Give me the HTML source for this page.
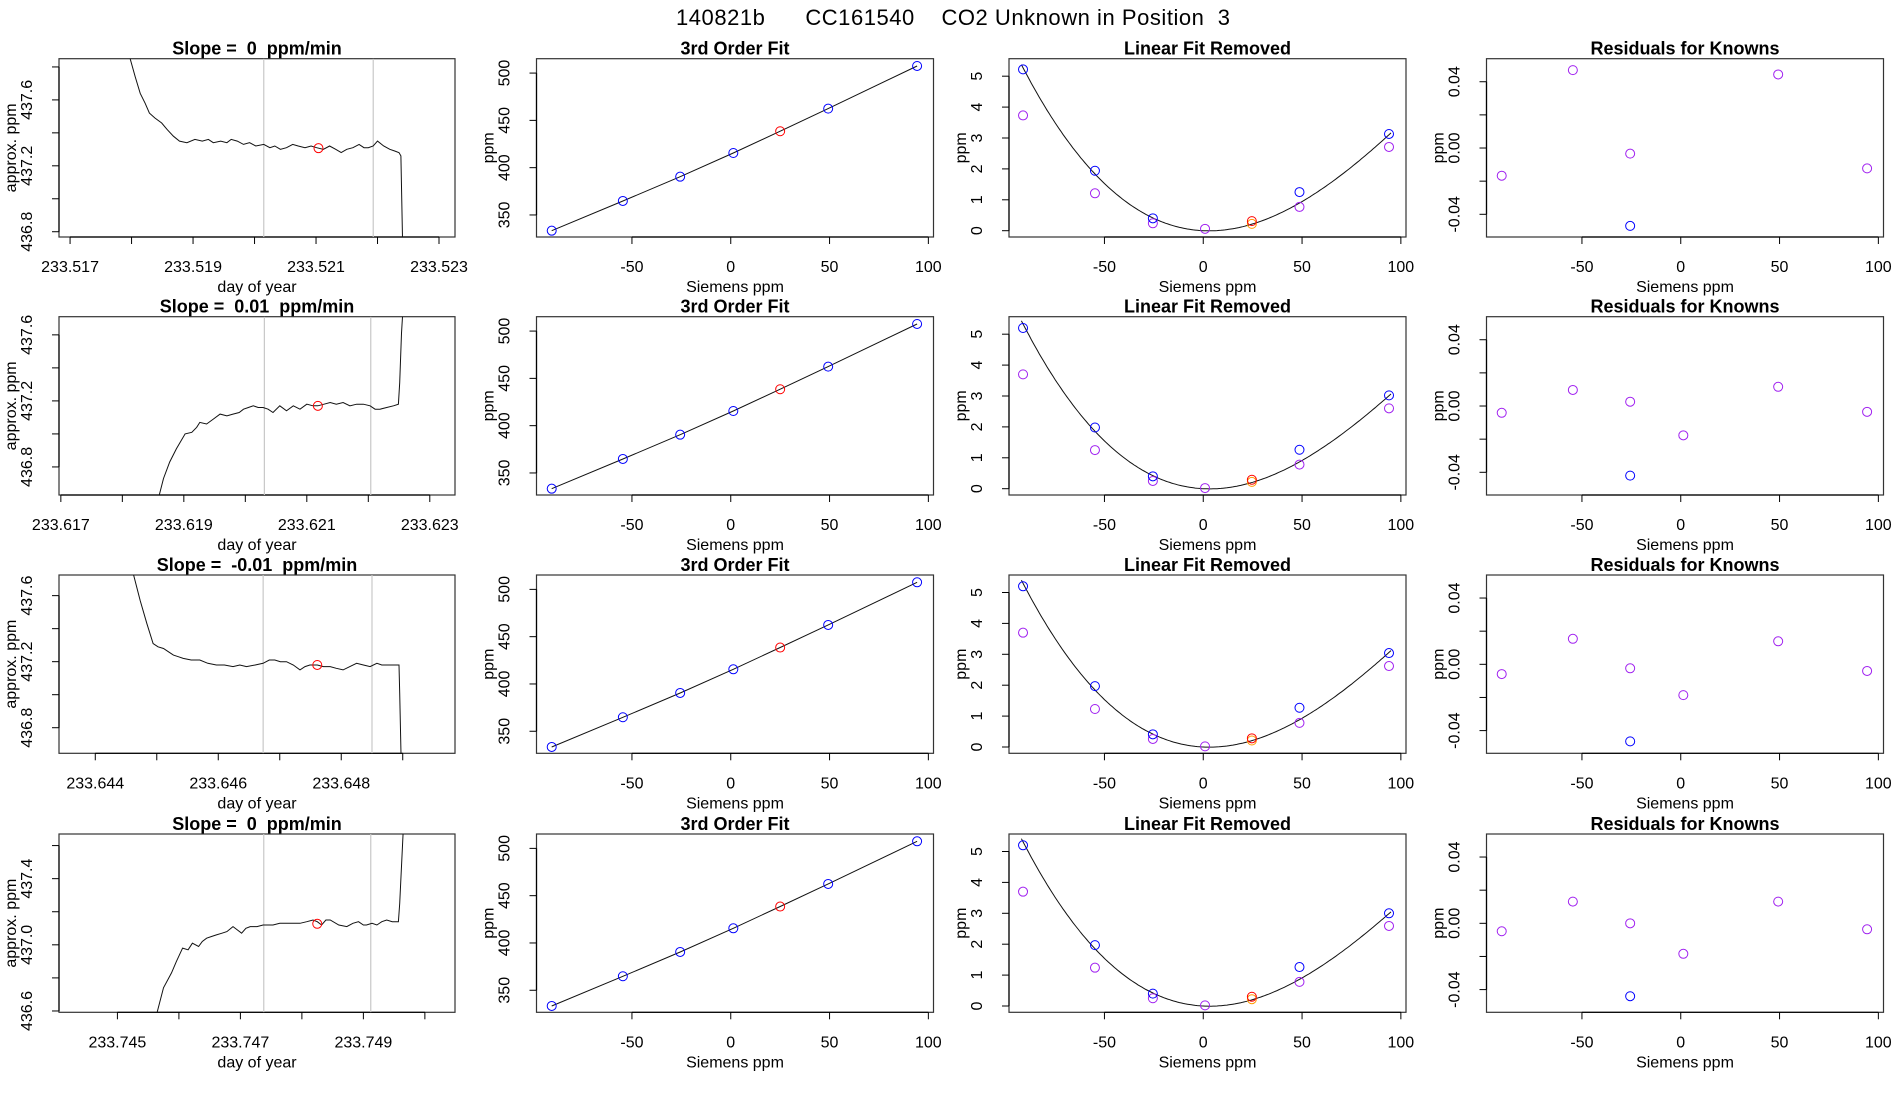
<!DOCTYPE html>
<html><head><meta charset="utf-8"><title>CO2 Unknown in Position 3</title>
<style>
html,body{margin:0;padding:0;background:#fff;}
svg{display:block;font-family:"Liberation Sans",Arial,sans-serif;}
.tk{font-size:16px;fill:#000;}
.ttl{font-size:18px;font-weight:bold;fill:#000;white-space:pre;}
</style></head>
<body>
<svg id="fig" width="1900" height="1100" viewBox="0 0 1900 1100" xmlns="http://www.w3.org/2000/svg">
<text x="676" y="25" style="font-size:22px" textLength="554" xml:space="preserve">140821b      CC161540    CO2 Unknown in Position  3</text>
</svg>
<script>
// ---------- data ----------
const slopeTitles = ["Slope =  0  ppm/min","Slope =  0.01  ppm/min","Slope =  -0.01  ppm/min","Slope =  0  ppm/min"];
const timeDomains = [[233.51682,233.52326],[233.61697,233.62341],[233.64341,233.64985],[233.74405,233.75049]];
const ppmDomains = [[436.768,437.85],[436.63,437.71],[436.645,437.725],[436.592,437.67]];
const timeTicks = [
 [233.517,233.518,233.519,233.520,233.521,233.522,233.523],
 [233.617,233.618,233.619,233.620,233.621,233.622,233.623],
 [233.644,233.645,233.646,233.647,233.648,233.649],
 [233.745,233.746,233.747,233.748,233.749,233.750]];
const timeTickLabels = [
 ["233.517","","233.519","","233.521","","233.523"],
 ["233.617","","233.619","","233.621","","233.623"],
 ["233.644","","233.646","","233.648",""],
 ["233.745","","233.747","","233.749",""]];
const ppmTicks = [
 [436.8,437.0,437.2,437.4,437.6,437.8],
 [436.8,437.0,437.2,437.4,437.6],
 [436.8,437.0,437.2,437.4,437.6],
 [436.6,436.8,437.0,437.2,437.4,437.6]];
const ppmTickLabels = [
 ["436.8","","437.2","","437.6",""],
 ["436.8","","437.2","","437.6"],
 ["436.8","","437.2","","437.6"],
 ["436.6","","437.0","","437.4",""]];
const windowLines = [[233.52015,233.52193],[233.62031,233.62204],[233.64673,233.64850],[233.74738,233.74912]];
const unknownPoint = [[233.52104,437.307],[233.62118,437.17],[233.64761,437.18],[233.74825,437.127]];
const traceT = [
 [233.51797,233.51806,233.51814,233.51822,233.51829,233.51838,233.51849,233.51858,233.51868,233.51878,233.51890,233.51903,233.51915,233.51925,233.51933,233.51945,233.51955,233.51962,233.51972,233.51982,233.51992,233.52002,233.52015,233.52025,233.52033,233.52042,233.52052,233.52062,233.52071,233.52082,233.52092,233.52101,233.52112,233.52122,233.52132,233.52141,233.52150,233.52160,233.52170,233.52178,233.52185,233.52193,233.52200,233.52210,233.52220,233.52228,233.52235,233.52238,233.52241],
 [233.61858,233.61867,233.61877,233.61888,233.61902,233.61913,233.61921,233.61926,233.61937,233.61948,233.61959,233.61970,233.61980,233.61990,233.61997,233.62005,233.62013,233.62021,233.62029,233.62037,233.62045,233.62056,233.62067,233.62078,233.62089,233.62100,233.62110,233.62118,233.62128,233.62138,233.62148,233.62159,233.62170,233.62181,233.62192,233.62203,233.62211,233.62219,233.62230,233.62241,233.62249,233.62251,233.62254,233.62256],
 [233.64462,233.64473,233.64484,233.64494,233.64502,233.64511,233.64519,233.64527,233.64535,233.64543,233.64556,233.64570,233.64583,233.64597,233.64610,233.64624,233.64635,233.64646,233.64660,233.64673,233.64683,233.64692,233.64701,233.64711,233.64722,233.64733,233.64741,233.64749,233.64755,233.64761,233.64771,233.64782,233.64792,233.64803,233.64814,233.64825,233.64836,233.64847,233.64858,233.64866,233.64874,233.64884,233.64894,233.64895,233.64898],
 [233.74561,233.74575,233.74588,233.74596,233.74606,233.74615,233.74622,233.74632,233.74638,233.74645,233.74653,233.74661,233.74670,233.74678,233.74688,233.74695,233.74702,233.74709,233.74716,233.74727,233.74737,233.74745,233.74753,233.74764,233.74775,233.74786,233.74797,233.74808,233.74818,233.74825,233.74832,233.74839,233.74846,233.74860,233.74873,233.74883,233.74892,233.74900,233.74905,233.74914,233.74922,233.74930,233.74938,233.74947,233.74957,233.74959,233.74965]];
const traceV = [
 [437.86,437.74,437.64,437.58,437.52,437.49,437.46,437.42,437.38,437.35,437.34,437.36,437.35,437.36,437.34,437.35,437.34,437.36,437.35,437.33,437.34,437.32,437.33,437.31,437.32,437.30,437.31,437.33,437.32,437.31,437.32,437.31,437.30,437.32,437.30,437.28,437.30,437.31,437.33,437.31,437.31,437.32,437.35,437.32,437.30,437.29,437.28,437.26,436.70],
 [436.60,436.73,436.83,436.91,437.00,437.01,437.04,437.07,437.06,437.09,437.12,437.11,437.12,437.13,437.15,437.16,437.17,437.16,437.16,437.15,437.13,437.17,437.14,437.17,437.15,437.18,437.17,437.17,437.18,437.19,437.18,437.19,437.17,437.18,437.18,437.17,437.15,437.15,437.16,437.17,437.18,437.31,437.61,437.73],
 [437.73,437.57,437.43,437.31,437.29,437.28,437.26,437.24,437.23,437.22,437.21,437.21,437.19,437.18,437.18,437.17,437.18,437.17,437.18,437.19,437.21,437.21,437.20,437.20,437.18,437.15,437.17,437.18,437.18,437.18,437.17,437.17,437.16,437.15,437.17,437.19,437.18,437.17,437.19,437.18,437.18,437.18,437.18,437.01,436.50],
 [436.54,436.74,436.83,436.90,436.98,436.97,437.01,436.99,437.02,437.04,437.05,437.06,437.07,437.08,437.11,437.09,437.07,437.10,437.11,437.11,437.12,437.12,437.12,437.13,437.13,437.13,437.13,437.14,437.15,437.14,437.12,437.15,437.15,437.12,437.11,437.13,437.14,437.12,437.12,437.13,437.12,437.14,437.15,437.14,437.14,437.25,437.70]];

const sieX = [-90.6,-54.6,-25.6,1.3,25.0,49.3,94.3];
const sieY = [333.4,364.8,390.5,415.5,438.5,462.4,507.5];
const sieColor = ["blue","blue","blue","blue","red","blue","blue"];
const ppmDomain3 = [326.7,515.2];
const ppmTicks3 = [350,400,450,500];
const sieTicks = [-50,0,50,100];
const sieDomain = [-98.3,102.6];

const linX = [-91.2,-54.8,-25.5,0.9,24.6,48.7,94.0];
const linBlue = [[5.22,1.94,0.40,null,0.31,1.25,3.13],[5.20,1.98,0.40,null,0.29,1.26,3.02],[5.20,1.97,0.41,null,0.28,1.27,3.04],[5.20,1.97,0.40,null,0.30,1.26,3.00]];
const linPurple = [[3.73,1.21,0.24,0.06,0.22,0.77,2.71],[3.70,1.25,0.25,0.02,0.22,0.78,2.60],[3.70,1.23,0.26,0.02,0.21,0.78,2.62],[3.70,1.24,0.25,0.02,0.22,0.78,2.59]];
const fitCoef = [[0.000494,-0.00286,-1.193e-6],[0.000492,-0.00320,-1.25e-6],[0.000493,-0.00300,-1.22e-6],[0.000490,-0.00320,-1.25e-6]];
const linDomain = [-0.204,5.566];
const linTicks = [0,1,2,3,4,5];

const resX = [-90.6,-54.6,-25.6,1.3,49.3,94.3];
const resPurple = [[-0.0167,0.0470,-0.0034,null,0.0444,-0.0123],[-0.0041,0.0097,0.0026,-0.0177,0.0116,-0.0035],[-0.0059,0.0154,-0.0024,-0.0186,0.0139,-0.0040],[-0.0048,0.0131,0.0000,-0.0184,0.0131,-0.0036]];
const resBlueX = -25.6;
const resBlue = [-0.047,-0.042,-0.0465,-0.044];
const resDomain = [-0.0537,0.0539];
const resTicks = [-0.04,-0.02,0,0.02,0.04];
const resTickLabels = ["-0.04","","0.00","","0.04"];

// ---------- layout ----------
const colLeft = [59,536.5,1009,1486.5];
const boxW = [396,397,397,397];
const rowTop = [58.7,316.7,575,834];
const boxH = 178.3;
const NS = "http://www.w3.org/2000/svg";
const svg = document.getElementById('fig');
const PURPLE = "#a020f0";

function mk(tag, attrs, parent, txt){
  const e = document.createElementNS(NS, tag);
  for (const k in attrs) e.setAttribute(k, attrs[k]);
  if (txt !== undefined) e.textContent = txt;
  (parent||svg).appendChild(e);
  return e;
}
function scale(d, r0, r1){ return v => r0 + (v - d[0]) / (d[1] - d[0]) * (r1 - r0); }

function panel(r, c, title, xlab, ylab, xd, yd, xt, xtl, yt, ytl){
  const g = mk('g', {});
  
  
  const L = colLeft[c], T = rowTop[r], W = boxW[c], H = boxH;
  const sx = scale(xd, L, L+W), sy = scale(yd, T+H, T);
  const t = mk('text', {x:L+W/2, y:T-4, 'text-anchor':'middle', class:'ttl'}, g, title);
  t.setAttributeNS('http://www.w3.org/XML/1998/namespace', 'xml:space', 'preserve');
  
  
  const box = mk('rect', {x:L, y:T, width:W, height:H, fill:'none', stroke:'#333', 'stroke-width':1.2}, g);
  
  
  const xa = mk('g', {}, g);
  
  
  mk('line', {x1:sx(xt[0]), x2:sx(xt[xt.length-1]), y1:T+H, y2:T+H, stroke:'#000', 'stroke-width':1.2}, xa);
  xt.forEach((v,i)=>{
    const x = sx(v);
    mk('line', {x1:x, x2:x, y1:T+H, y2:T+H+7, stroke:'#000'}, xa);
    if (xtl[i]) {
      const tl = mk('text', {x:x, y:T+H+35, 'text-anchor':'middle', class:'tk'}, xa, xtl[i]);
      
      
    }
  });
  const xl = mk('text', {x:L+W/2, y:T+H+55, 'text-anchor':'middle', class:'tk'}, g, xlab);
  
  
  const ya = mk('g', {}, g);
  
  
  mk('line', {x1:L, x2:L, y1:sy(yt[0]), y2:sy(yt[yt.length-1]), stroke:'#000', 'stroke-width':1.2}, ya);
  yt.forEach((v,i)=>{
    const y = sy(v);
    mk('line', {x1:L-7, x2:L, y1:y, y2:y, stroke:'#000'}, ya);
    if (ytl[i]) {
      const tl = mk('text', {x:0, y:0, 'text-anchor':'middle', class:'tk', transform:`translate(${L-27},${y}) rotate(-90)`}, ya, ytl[i]);
      
      
    }
  });
  const yl = mk('text', {x:0, y:0, 'text-anchor':'middle', class:'tk', transform:`translate(${L-43},${T+H/2}) rotate(-90)`}, g, ylab);
  
  
  const cid = 'clip' + r + c;
  const cp = mk('clipPath', {id:cid}, g);
  mk('rect', {x:L, y:T, width:W, height:H}, cp);
  const plot = mk('g', {'clip-path':`url(#${cid})`}, g);
  
  
  return {sx, sy, plot};
}
function circ(p, x, y, col, name){
  const e = mk('circle', {cx:x, cy:y, r:4.5, fill:'none', stroke:col, 'stroke-width':1}, p);
  
  
}

for (let r = 0; r < 4; r++){
  let P = panel(r, 0, slopeTitles[r], 'day of year', 'approx. ppm', timeDomains[r], ppmDomains[r], timeTicks[r], timeTickLabels[r], ppmTicks[r], ppmTickLabels[r]);
  windowLines[r].forEach(v=>{
    const l = mk('line', {x1:P.sx(v), x2:P.sx(v), y1:rowTop[r], y2:rowTop[r]+boxH, stroke:'#c8c8c8', 'stroke-width':1.2}, P.plot);
    
    
  });
  const pts = traceT[r].map((t,i)=>P.sx(t).toFixed(1)+','+P.sy(traceV[r][i]).toFixed(1)).join(' ');
  const pl = mk('polyline', {points:pts, fill:'none', stroke:'#111', 'stroke-width':1}, P.plot);
  
  
  circ(P.plot, P.sx(unknownPoint[r][0]), P.sy(unknownPoint[r][1]), 'red', 'unknown-mean-point');

  P = panel(r, 1, '3rd Order Fit', 'Siemens ppm', 'ppm', sieDomain, ppmDomain3, sieTicks, sieTicks.map(String), ppmTicks3, ppmTicks3.map(String));
  const fpts = sieX.map((x,i)=>P.sx(x).toFixed(1)+','+P.sy(sieY[i]).toFixed(1)).join(' ');
  const fl = mk('polyline', {points:fpts, fill:'none', stroke:'#111', 'stroke-width':1}, P.plot);
  
  
  sieX.forEach((x,i)=>circ(P.plot, P.sx(x), P.sy(sieY[i]), sieColor[i], 'standard-point'));

  P = panel(r, 2, 'Linear Fit Removed', 'Siemens ppm', 'ppm', sieDomain, linDomain, sieTicks, sieTicks.map(String), linTicks, linTicks.map(String));
  const cf = fitCoef[r]; let cpts = [];
  for (let x = -92; x <= 95; x += 1){ cpts.push(P.sx(x).toFixed(1)+','+P.sy(cf[0]*x*x + cf[1]*x + cf[2]*x*x*x).toFixed(1)); }
  const cl = mk('polyline', {points:cpts.join(' '), fill:'none', stroke:'#111', 'stroke-width':1}, P.plot);
  
  
  linX.forEach((x,i)=>{
    if (linPurple[r][i] !== null) circ(P.plot, P.sx(x), P.sy(linPurple[r][i]), i===4 ? '#ff9900' : PURPLE, 'residual-point');
    if (linBlue[r][i] !== null) circ(P.plot, P.sx(x), P.sy(linBlue[r][i]), i===4 ? 'red' : 'blue', 'curvature-point');
  });

  P = panel(r, 3, 'Residuals for Knowns', 'Siemens ppm', 'ppm', sieDomain, resDomain, sieTicks, sieTicks.map(String), resTicks, resTickLabels);
  resX.forEach((x,i)=>{ if (resPurple[r][i] !== null) circ(P.plot, P.sx(x), P.sy(resPurple[r][i]), PURPLE, 'known-residual'); });
  circ(P.plot, P.sx(resBlueX), P.sy(resBlue[r]), 'blue', 'excluded-residual');
}
</script>
</body></html>
